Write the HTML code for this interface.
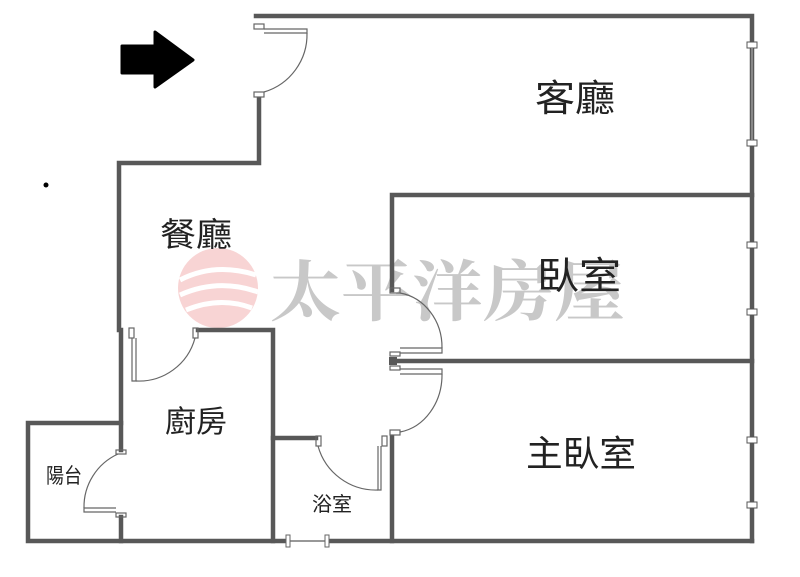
<!DOCTYPE html>
<html><head><meta charset="utf-8"><style>
html,body{margin:0;padding:0;background:#fff;width:800px;height:577px;overflow:hidden}
text{font-family:"Liberation Sans","Noto Sans CJK TC",sans-serif;fill:#222}
</style></head><body>
<svg width="800" height="577" viewBox="0 0 800 577" xmlns="http://www.w3.org/2000/svg">
<!-- watermark -->
<circle cx="218" cy="288" r="40" fill="#f6c9c9" opacity="0.8"/>
<path d="M180 280 Q215 262 256 275 M180 295 Q218 278 258 292 M186 310 Q220 296 252 308" stroke="#fff" stroke-width="5" fill="none"/>
<text x="270" y="315" font-size="66" textLength="355" lengthAdjust="spacingAndGlyphs" style="fill:#c8c8c8;font-family:'Noto Serif CJK SC',serif;font-weight:bold">太平洋房屋</text>
<g stroke="#585858" stroke-width="4.5" fill="none" stroke-linecap="square">
<path d="M256 16 H752 V541"/>
<path d="M259 98 V163 H119 V330"/>
<path d="M121 330 V450 M121 517 V541"/>
<path d="M28 423 H121 M28 423 V541 H288 M327 541 H752"/>
<path d="M198 330 H273 V541"/>
<path d="M273 438 H316"/>
<path d="M392 437 V541"/>
<path d="M392 290 V195 H752"/>
<path d="M392 361 H752"/>
</g>
<g fill="#fff" stroke="#555" stroke-width="1">
<rect x="747" y="42" width="10" height="6"/><rect x="747" y="140" width="10" height="6"/>
<rect x="747" y="242" width="10" height="6"/><rect x="747" y="309" width="10" height="6"/>
<rect x="747" y="437" width="10" height="6"/><rect x="747" y="502" width="10" height="6"/>
</g>
<line x1="752" y1="48" x2="752" y2="140" stroke="#999" stroke-width="1.5"/>
<line x1="288" y1="541" x2="327" y2="541" stroke="#777" stroke-width="1.5"/>
<rect x="286" y="535" width="4" height="12" fill="#fff" stroke="#666"/><rect x="325" y="535" width="4" height="12" fill="#fff" stroke="#666"/>
<g fill="none" stroke="#666" stroke-width="1.2">
<rect x="254" y="24" width="10" height="5" fill="#fff"/><rect x="254" y="92" width="10" height="5" fill="#fff"/>
<path d="M264 29 H307 V33 H264"/><path d="M307 33 A60 60 0 0 1 264 92"/>
<rect x="129" y="328" width="5" height="10"/><rect x="193" y="328" width="5" height="10"/>
<path d="M132 338 V381 H136 V338"/><path d="M136 381 A58 58 0 0 0 195 338"/>
<rect x="116" y="450" width="10" height="4"/><rect x="116" y="513" width="10" height="4"/>
<path d="M116 512 H84 V508 H116"/><path d="M84 508 A58 58 0 0 1 118 454"/>
<rect x="316" y="436" width="5" height="10"/><rect x="382" y="436" width="5" height="10"/>
<path d="M378 446 V490 H381 V446"/><path d="M318 446 A60 60 0 0 0 378 490"/>
<rect x="390" y="288" width="10" height="5"/><rect x="390" y="430" width="10" height="5"/>
<rect x="390" y="352" width="10" height="4"/><rect x="390" y="366" width="10" height="4"/>
<path d="M400 348 H442 V353 H400 M400 369 H442 V374 H400"/>
<path d="M442 348 A50 55 0 0 0 400 293"/><path d="M442 374 A50 58 0 0 1 400 432"/>
</g>
<rect x="389" y="357" width="8" height="8" fill="#585858"/>
<path d="M122 46 H155 V32 L193 60 L155 87 V73 H122 Z" fill="#000" stroke="#000" stroke-width="3" stroke-linejoin="round"/>
<circle cx="46" cy="185" r="2.5" fill="#000"/>
<text x="535" y="111" font-size="37" textLength="80" lengthAdjust="spacingAndGlyphs">客廳</text>
<text x="160" y="246" font-size="33" textLength="72" lengthAdjust="spacingAndGlyphs">餐廳</text>
<text x="537" y="289" font-size="38" textLength="84" lengthAdjust="spacingAndGlyphs">臥室</text>
<text x="526" y="466" font-size="36" textLength="110" lengthAdjust="spacingAndGlyphs">主臥室</text>
<text x="165" y="432" font-size="30" textLength="62" lengthAdjust="spacingAndGlyphs">廚房</text>
<text x="46" y="483" font-size="21" textLength="36" lengthAdjust="spacingAndGlyphs">陽台</text>
<text x="312" y="511" font-size="20" textLength="40" lengthAdjust="spacingAndGlyphs">浴室</text>
</svg>
</body></html>
